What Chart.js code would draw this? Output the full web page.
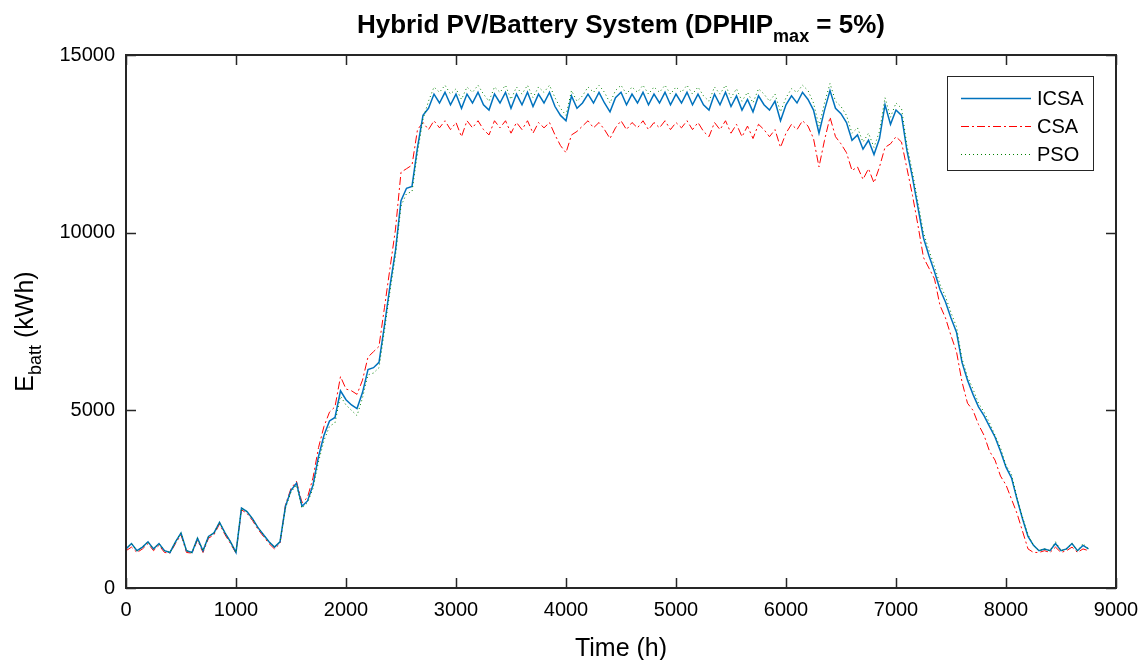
<!DOCTYPE html>
<html>
<head>
<meta charset="utf-8">
<title>Hybrid PV/Battery System</title>
<script src="https://cdn.jsdelivr.net/npm/chart.js@4.4.1/dist/chart.umd.min.js"></script>
<style>
  html, body { margin: 0; padding: 0; background: #fff; }
  #wrap { width: 1145px; height: 660px; position: relative; }
</style>
</head>
<body>
<div id="wrap"><canvas id="battChart"></canvas></div>
<script>
// battery energy (kWh), one reading every 50 h
const ICSA = [
  1100, 1250, 1050, 1150, 1300, 1100, 1250, 1050, 1000, 1300,
  1550, 1050, 1000, 1400, 1050, 1450, 1550, 1850, 1550, 1300,
  1000, 2250, 2150, 1950, 1700, 1500, 1300, 1150, 1300, 2300,
  2750, 2950, 2300, 2450, 2900, 3700, 4300, 4700, 4800, 5550,
  5300, 5150, 5050, 5500, 6150, 6200, 6350, 7400, 8500, 9500,
  10900, 11250, 11300, 12400, 13300, 13500, 13900, 13650, 13950, 13600,
  13900, 13500, 13900, 13650, 13950, 13600, 13450, 13900, 13650, 13950,
  13500, 13900, 13600, 13950, 13550, 13900, 13650, 13950, 13550, 13300,
  13150, 13850, 13500, 13650, 13900, 13650, 13950, 13650, 13400, 13800,
  13950, 13600, 13900, 13650, 13950, 13600, 13900, 13650, 13950, 13600,
  13900, 13650, 13950, 13600, 13900, 13600, 13450, 13900, 13600, 13950,
  13550, 13850, 13450, 13750, 13400, 13850, 13600, 13450, 13700, 13150,
  13600, 13850, 13650, 13950, 13750, 13450, 12800, 13450, 14000, 13500,
  13350, 13100, 12600, 12750, 12350, 12600, 12200, 12650, 13600, 13050,
  13450, 13300, 12300, 11550, 10700, 9850, 9350, 8900, 8400, 8050,
  7600, 7200, 6350, 5850, 5450, 5100, 4850, 4550, 4250, 3850,
  3400, 3100, 2500, 1950, 1450, 1200, 1050, 1100, 1050, 1250,
  1050, 1100, 1250, 1050, 1200, 1100
];
const CSA = [
  1050, 1150, 1000, 1100, 1250, 1050, 1200, 1000, 980, 1250,
  1500, 1000, 980, 1350, 1000, 1400, 1500, 1800, 1500, 1250,
  980, 2200, 2100, 1900, 1650, 1450, 1250, 1100, 1250, 2350,
  2800, 3000, 2400, 2550, 3100, 3950, 4550, 4950, 5100, 5950,
  5600, 5550, 5450, 5850, 6500, 6650, 6800, 7900, 9000, 10100,
  11700, 11800, 11900, 12900, 13100, 12900, 13150, 12950, 13150, 12900,
  13100, 12700, 13150, 12950, 13150, 12900, 12750, 13150, 12950, 13150,
  12800, 13100, 12900, 13150, 12800, 13100, 12950, 13100, 12750, 12450,
  12250, 12750, 12850, 13000, 13150, 12950, 13100, 12900, 12650, 12950,
  13150, 12900, 13100, 12950, 13150, 12900, 13100, 12950, 13150, 12900,
  13100, 12950, 13150, 12900, 13100, 12850, 12700, 13100, 12900, 13150,
  12800, 13050, 12700, 13000, 12650, 13050, 12900, 12700, 12900, 12400,
  12800, 13050, 12900, 13150, 13000, 12650, 11850, 12600, 13250, 12700,
  12500, 12250, 11750, 11850, 11500, 11800, 11400, 11850, 12400, 12500,
  12700, 12550, 11800, 11050, 10200, 9300, 9000, 8700, 7950, 7600,
  7100, 6650, 5800, 5200, 5000, 4600, 4300, 3850, 3600, 3150,
  2900, 2500, 2100, 1600, 1100, 1000, 1000, 1050, 1000, 1150,
  1000, 1050, 1150, 1000, 1100, 1050
];
const PSO = [
  1100, 1250, 1050, 1150, 1300, 1100, 1250, 1050, 1000, 1300,
  1550, 1050, 1000, 1400, 1050, 1450, 1550, 1850, 1550, 1300,
  1000, 2250, 2150, 1950, 1700, 1500, 1300, 1150, 1300, 2250,
  2700, 2900, 2250, 2400, 2800, 3550, 4150, 4550, 4650, 5400,
  5150, 5000, 4850, 5350, 6000, 6050, 6200, 7250, 8350, 9350,
  10750, 11100, 11150, 12250, 13200, 13700, 14100, 13950, 14150, 13900,
  14050, 13750, 14100, 13950, 14150, 13900, 13700, 14100, 13950, 14150,
  13750, 14100, 13900, 14150, 13800, 14100, 13950, 14150, 13800, 13500,
  13300, 14000, 13700, 13850, 14100, 13950, 14150, 13950, 13650, 14000,
  14150, 13900, 14100, 13950, 14150, 13900, 14100, 13950, 14150, 13900,
  14100, 13950, 14150, 13900, 14100, 13850, 13700, 14100, 13900, 14150,
  13800, 14050, 13700, 13950, 13650, 14050, 13900, 13700, 13900, 13400,
  13800, 14050, 13950, 14150, 14000, 13650, 13000, 13650, 14200, 13700,
  13550, 13300, 12800, 12950, 12550, 12800, 12400, 12850, 13800, 13250,
  13650, 13500, 12450, 11700, 10850, 10000, 9500, 9050, 8550, 8200,
  7750, 7350, 6450, 5950, 5600, 5200, 4950, 4650, 4300, 3950,
  3450, 3200, 2550, 2000, 1500, 1200, 1050, 1100, 1050, 1300,
  1050, 1100, 1250, 1050, 1250, 1100
];
const hours = ICSA.map((_, i) => i * 50);
const seriesNames = ['ICSA', 'CSA', 'PSO'];
const xTicks = [0, 1000, 2000, 3000, 4000, 5000, 6000, 7000, 8000, 9000];
const yTicks = [0, 5000, 10000, 15000];

const FONT = '"Liberation Sans", Arial, Helvetica, sans-serif';
const INK = '#262626';

function pts(vals) {
  return vals.map((v, i) => ({ x: hours[i], y: v }));
}

// box with inward ticks, legend, title and y label with subscripts
const matlabFrame = {
  id: 'matlabFrame',
  afterDraw(chart) {
    const ctx = chart.ctx;
    const a = chart.chartArea;
    const sx = chart.scales.x, sy = chart.scales.y;
    ctx.save();
    ctx.strokeStyle = INK;
    ctx.lineWidth = 1.5;
    ctx.beginPath();
    xTicks.forEach(t => {
      const px = Math.round(sx.getPixelForValue(t)) + 0.5;
      ctx.moveTo(px, a.bottom); ctx.lineTo(px, a.bottom - 10);
      ctx.moveTo(px, a.top); ctx.lineTo(px, a.top + 10);
    });
    yTicks.forEach(t => {
      const py = Math.round(sy.getPixelForValue(t)) + 0.5;
      ctx.moveTo(a.left, py); ctx.lineTo(a.left + 10, py);
      ctx.moveTo(a.right, py); ctx.lineTo(a.right - 10, py);
    });
    ctx.stroke();
    ctx.lineWidth = 2;
    ctx.strokeRect(a.left, a.top, a.right - a.left, a.bottom - a.top);

    // legend
    const lx = 947, ly = 76, lw = 146, lh = 94;
    ctx.fillStyle = '#fff';
    ctx.fillRect(lx, ly, lw, lh);
    ctx.lineWidth = 1;
    ctx.strokeStyle = INK;
    ctx.strokeRect(lx + 0.5, ly + 0.5, lw, lh);
    chart.data.datasets.forEach((ds, i) => {
      const yy = ly + 22 + i * 28;
      ctx.strokeStyle = ds.borderColor;
      ctx.lineWidth = ds.borderWidth;
      ctx.setLineDash(ds.borderDash || []);
      ctx.beginPath();
      ctx.moveTo(lx + 14, yy + 0.5); ctx.lineTo(lx + 84, yy + 0.5);
      ctx.stroke();
      ctx.setLineDash([]);
      ctx.fillStyle = '#000';
      ctx.font = '20px ' + FONT;
      ctx.textBaseline = 'middle';
      ctx.textAlign = 'left';
      ctx.fillText(ds.label, lx + 90, yy + 1);
    });

    // title with subscript
    const cx = (a.left + a.right) / 2;
    const tMain = 'Hybrid PV/Battery System (DPHIP';
    const tSub = 'max';
    const tEnd = ' = 5%)';
    ctx.fillStyle = '#000';
    ctx.textBaseline = 'alphabetic';
    ctx.textAlign = 'left';
    ctx.font = 'bold 26px ' + FONT;
    const w1 = ctx.measureText(tMain).width;
    const w3 = ctx.measureText(tEnd).width;
    ctx.font = 'bold 18px ' + FONT;
    const w2 = ctx.measureText(tSub).width;
    let x0 = cx - (w1 + w2 + w3) / 2;
    const base = 33;
    ctx.font = 'bold 26px ' + FONT;
    ctx.fillText(tMain, x0, base);
    ctx.font = 'bold 18px ' + FONT;
    ctx.fillText(tSub, x0 + w1, base + 9);
    ctx.font = 'bold 26px ' + FONT;
    ctx.fillText(tEnd, x0 + w1 + w2, base);

    // x label
    ctx.font = '25px ' + FONT;
    ctx.textAlign = 'center';
    ctx.fillText('Time (h)', cx, 656);

    // y label, rotated, with subscript
    ctx.save();
    ctx.translate(33, (a.top + a.bottom) / 2 + 10);
    ctx.rotate(-Math.PI / 2);
    ctx.textAlign = 'left';
    ctx.font = '25px ' + FONT;
    const e1 = ctx.measureText('E').width;
    const e3 = ctx.measureText(' (kWh)').width;
    ctx.font = '18px ' + FONT;
    const e2 = ctx.measureText('batt').width;
    let y0 = -(e1 + e2 + e3) / 2;
    ctx.font = '25px ' + FONT;
    ctx.fillText('E', y0, 0);
    ctx.font = '18px ' + FONT;
    ctx.fillText('batt', y0 + e1, 8);
    ctx.font = '25px ' + FONT;
    ctx.fillText(' (kWh)', y0 + e1 + e2, 0);
    ctx.restore();
    ctx.restore();
  }
};

new Chart(document.getElementById('battChart').getContext('2d'), {
  type: 'line',
  data: {
    datasets: [
      {
        label: seriesNames[0],
        data: pts(ICSA),
        borderColor: '#0072BD',
        borderWidth: 1.5,
        order: 2
      },
      {
        label: seriesNames[1],
        data: pts(CSA),
        borderColor: '#FF0000',
        borderWidth: 1,
        borderDash: [8, 3, 2, 3],
        order: 3
      },
      {
        label: seriesNames[2],
        data: pts(PSO),
        borderColor: '#008000',
        borderWidth: 1,
        borderDash: [1, 3],
        order: 1
      }
    ]
  },
  options: {
    responsive: true,
    maintainAspectRatio: false,
    animation: false,
    layout: { padding: { top: 55, right: 29, left: 0, bottom: 0 } },
    elements: { point: { radius: 0 }, line: { tension: 0 } },
    plugins: {
      legend: { display: false },
      title: { display: false },
      tooltip: { enabled: false }
    },
    scales: {
      x: {
        type: 'linear',
        min: 0,
        max: 9000,
        afterBuildTicks: s => { s.ticks = xTicks.map(v => ({ value: v })); },
        afterFit: s => { s.height = 72; },
        grid: { display: false },
        border: { display: false },
        ticks: {
          color: '#000', font: { family: FONT, size: 20 }, padding: 2, maxRotation: 0,
          callback: v => String(v)
        }
      },
      y: {
        min: 0,
        max: 15000,
        afterBuildTicks: s => { s.ticks = yTicks.map(v => ({ value: v })); },
        afterFit: s => { s.width = 126; },
        grid: { display: false },
        border: { display: false },
        ticks: {
          color: '#000', font: { family: FONT, size: 20 }, padding: 3,
          callback: v => String(v)
        }
      }
    }
  },
  plugins: [matlabFrame]
});
</script>
</body>
</html>
